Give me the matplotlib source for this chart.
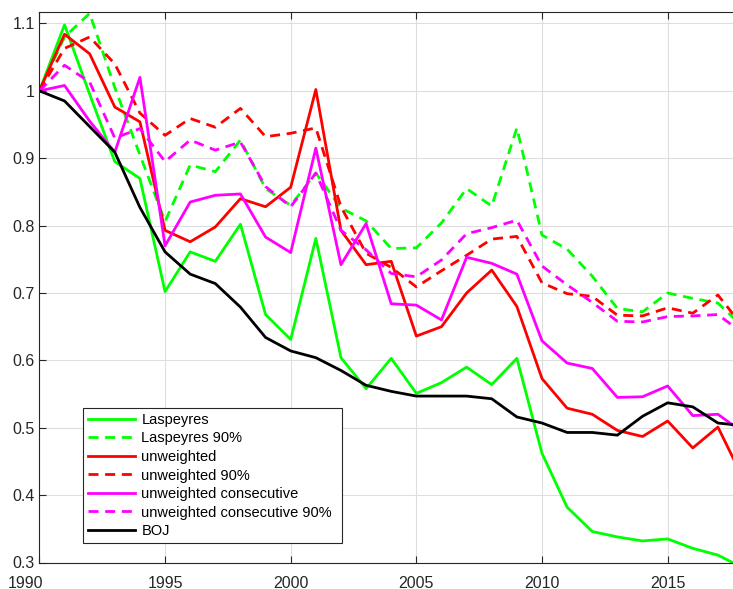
import matplotlib
matplotlib.use("Agg")
import matplotlib.pyplot as plt
import matplotlib.transforms as mtransforms
from matplotlib.ticker import FuncFormatter

years = list(range(1990, 2019))

laspeyres = [1.000, 1.098, 0.995, 0.895, 0.870, 0.702, 0.761, 0.747, 0.802, 0.668,
             0.631, 0.781, 0.604, 0.558, 0.603, 0.551, 0.567, 0.590, 0.564, 0.603,
             0.462, 0.382, 0.346, 0.338, 0.332, 0.335, 0.321, 0.311, 0.292]
laspeyres90 = [1.000, 1.080, 1.115, 1.005, 0.905, 0.806, 0.890, 0.880, 0.927, 0.855,
               0.830, 0.878, 0.826, 0.807, 0.766, 0.767, 0.804, 0.855, 0.829, 0.945,
               0.786, 0.765, 0.725, 0.677, 0.672, 0.700, 0.692, 0.685, 0.650]
unweighted = [1.000, 1.084, 1.055, 0.976, 0.954, 0.793, 0.776, 0.798, 0.840, 0.828,
              0.857, 1.002, 0.793, 0.742, 0.747, 0.636, 0.650, 0.700, 0.734, 0.680,
              0.573, 0.529, 0.520, 0.496, 0.487, 0.510, 0.470, 0.501, 0.425]
unweighted90 = [1.000, 1.063, 1.080, 1.040, 0.967, 0.934, 0.959, 0.946, 0.974, 0.932,
                0.937, 0.945, 0.828, 0.759, 0.738, 0.709, 0.733, 0.756, 0.780, 0.784,
                0.715, 0.699, 0.695, 0.667, 0.666, 0.678, 0.670, 0.697, 0.650]
unweighted_cons = [1.000, 1.008, 0.955, 0.909, 1.020, 0.770, 0.835, 0.845, 0.847, 0.783,
                   0.760, 0.915, 0.742, 0.803, 0.684, 0.682, 0.660, 0.753, 0.744, 0.728,
                   0.629, 0.596, 0.588, 0.545, 0.546, 0.562, 0.518, 0.520, 0.493]
unweighted_cons90 = [1.000, 1.038, 1.013, 0.930, 0.944, 0.895, 0.927, 0.912, 0.924, 0.858,
                     0.828, 0.878, 0.793, 0.764, 0.729, 0.724, 0.749, 0.788, 0.797, 0.808,
                     0.740, 0.712, 0.686, 0.658, 0.657, 0.665, 0.666, 0.668, 0.640]
boj = [1.000, 0.985, 0.947, 0.909, 0.827, 0.761, 0.728, 0.714, 0.679, 0.634,
       0.614, 0.604, 0.585, 0.563, 0.554, 0.547, 0.547, 0.547, 0.543, 0.516,
       0.507, 0.493, 0.493, 0.489, 0.517, 0.537, 0.531, 0.507, 0.503]

labels = ["Laspeyres", "Laspeyres 90%", "unweighted", "unweighted 90%",
          "unweighted consecutive", "unweighted consecutive 90%", "BOJ"]
xticks = [1990, 1995, 2000, 2005, 2010, 2015]
yticks = [0.3, 0.4, 0.5, 0.6, 0.7, 0.8, 0.9, 1.0, 1.1]

plt.rcParams['font.family'] = ['Liberation Sans', 'DejaVu Sans']

W, H = 733, 589
fig = plt.figure(figsize=(W / 100, H / 100), dpi=100)
x0px, x1px = 39.4, 733.0
ytop, ybot = 12.3, 562.5
ax = fig.add_axes([x0px / W, 1 - ybot / H, (x1px - x0px) / W, (ybot - ytop) / H])

lw = 2.0
dash = (3.6, 2.4)
series = [
    (laspeyres, (0, 1, 0), '-'),
    (laspeyres90, (0, 1, 0), '--'),
    (unweighted, (1, 0, 0), '-'),
    (unweighted90, (1, 0, 0), '--'),
    (unweighted_cons, (1, 0, 1), '-'),
    (unweighted_cons90, (1, 0, 1), '--'),
    (boj, (0, 0, 0), '-'),
]
for (vals, col, ls), lab in zip(series, labels):
    if ls == '--':
        ax.plot(years, vals, color=col, lw=lw, dashes=dash, label=lab)
    else:
        ax.plot(years, vals, color=col, lw=lw, label=lab)

ax.set_xlim(1990, 1990 + (x1px - x0px) / 25.13)
ax.set_ylim(0.3, 1.1166)
ax.set_xticks(xticks)
ax.set_yticks(yticks)
ax.yaxis.set_major_formatter(FuncFormatter(lambda v, p: f"{v:g}"))
ax.grid(True, color=(0.87, 0.87, 0.87), lw=0.8)
ax.set_axisbelow(True)
tc = (0.15, 0.15, 0.15)
ax.tick_params(axis='both', direction='in', length=5, width=0.8, colors=tc,
               labelsize=11.5, top=True, right=False)
ax.tick_params(axis='x', pad=10)
ax.tick_params(axis='y', pad=3.5)
for s in ['left', 'bottom', 'top']:
    ax.spines[s].set_color(tc)
    ax.spines[s].set_linewidth(0.8)
ax.spines['right'].set_visible(False)

# shift first x label like the reference
fig.canvas.draw()
xl = ax.get_xticklabels()
xl[0].set_transform(xl[0].get_transform() + mtransforms.ScaledTranslation(-14 / 100, 0, fig.dpi_scale_trans))

leg = ax.legend(loc='upper left', bbox_to_anchor=(82.7 / W, 1 - 407.7 / H - 0.1, (342.3 - 82.7) / W, 0.1),
                bbox_transform=fig.transFigure, mode='expand', borderaxespad=0,
                fontsize=10.5, handlelength=3.25, handletextpad=0.42, labelspacing=0.31,
                borderpad=0.36, fancybox=False, framealpha=1, edgecolor=tc)
leg.get_frame().set_linewidth(0.8)
for t in leg.get_texts():
    t.set_color((0.0, 0.0, 0.0))

fig.savefig("out.png", dpi=100)
